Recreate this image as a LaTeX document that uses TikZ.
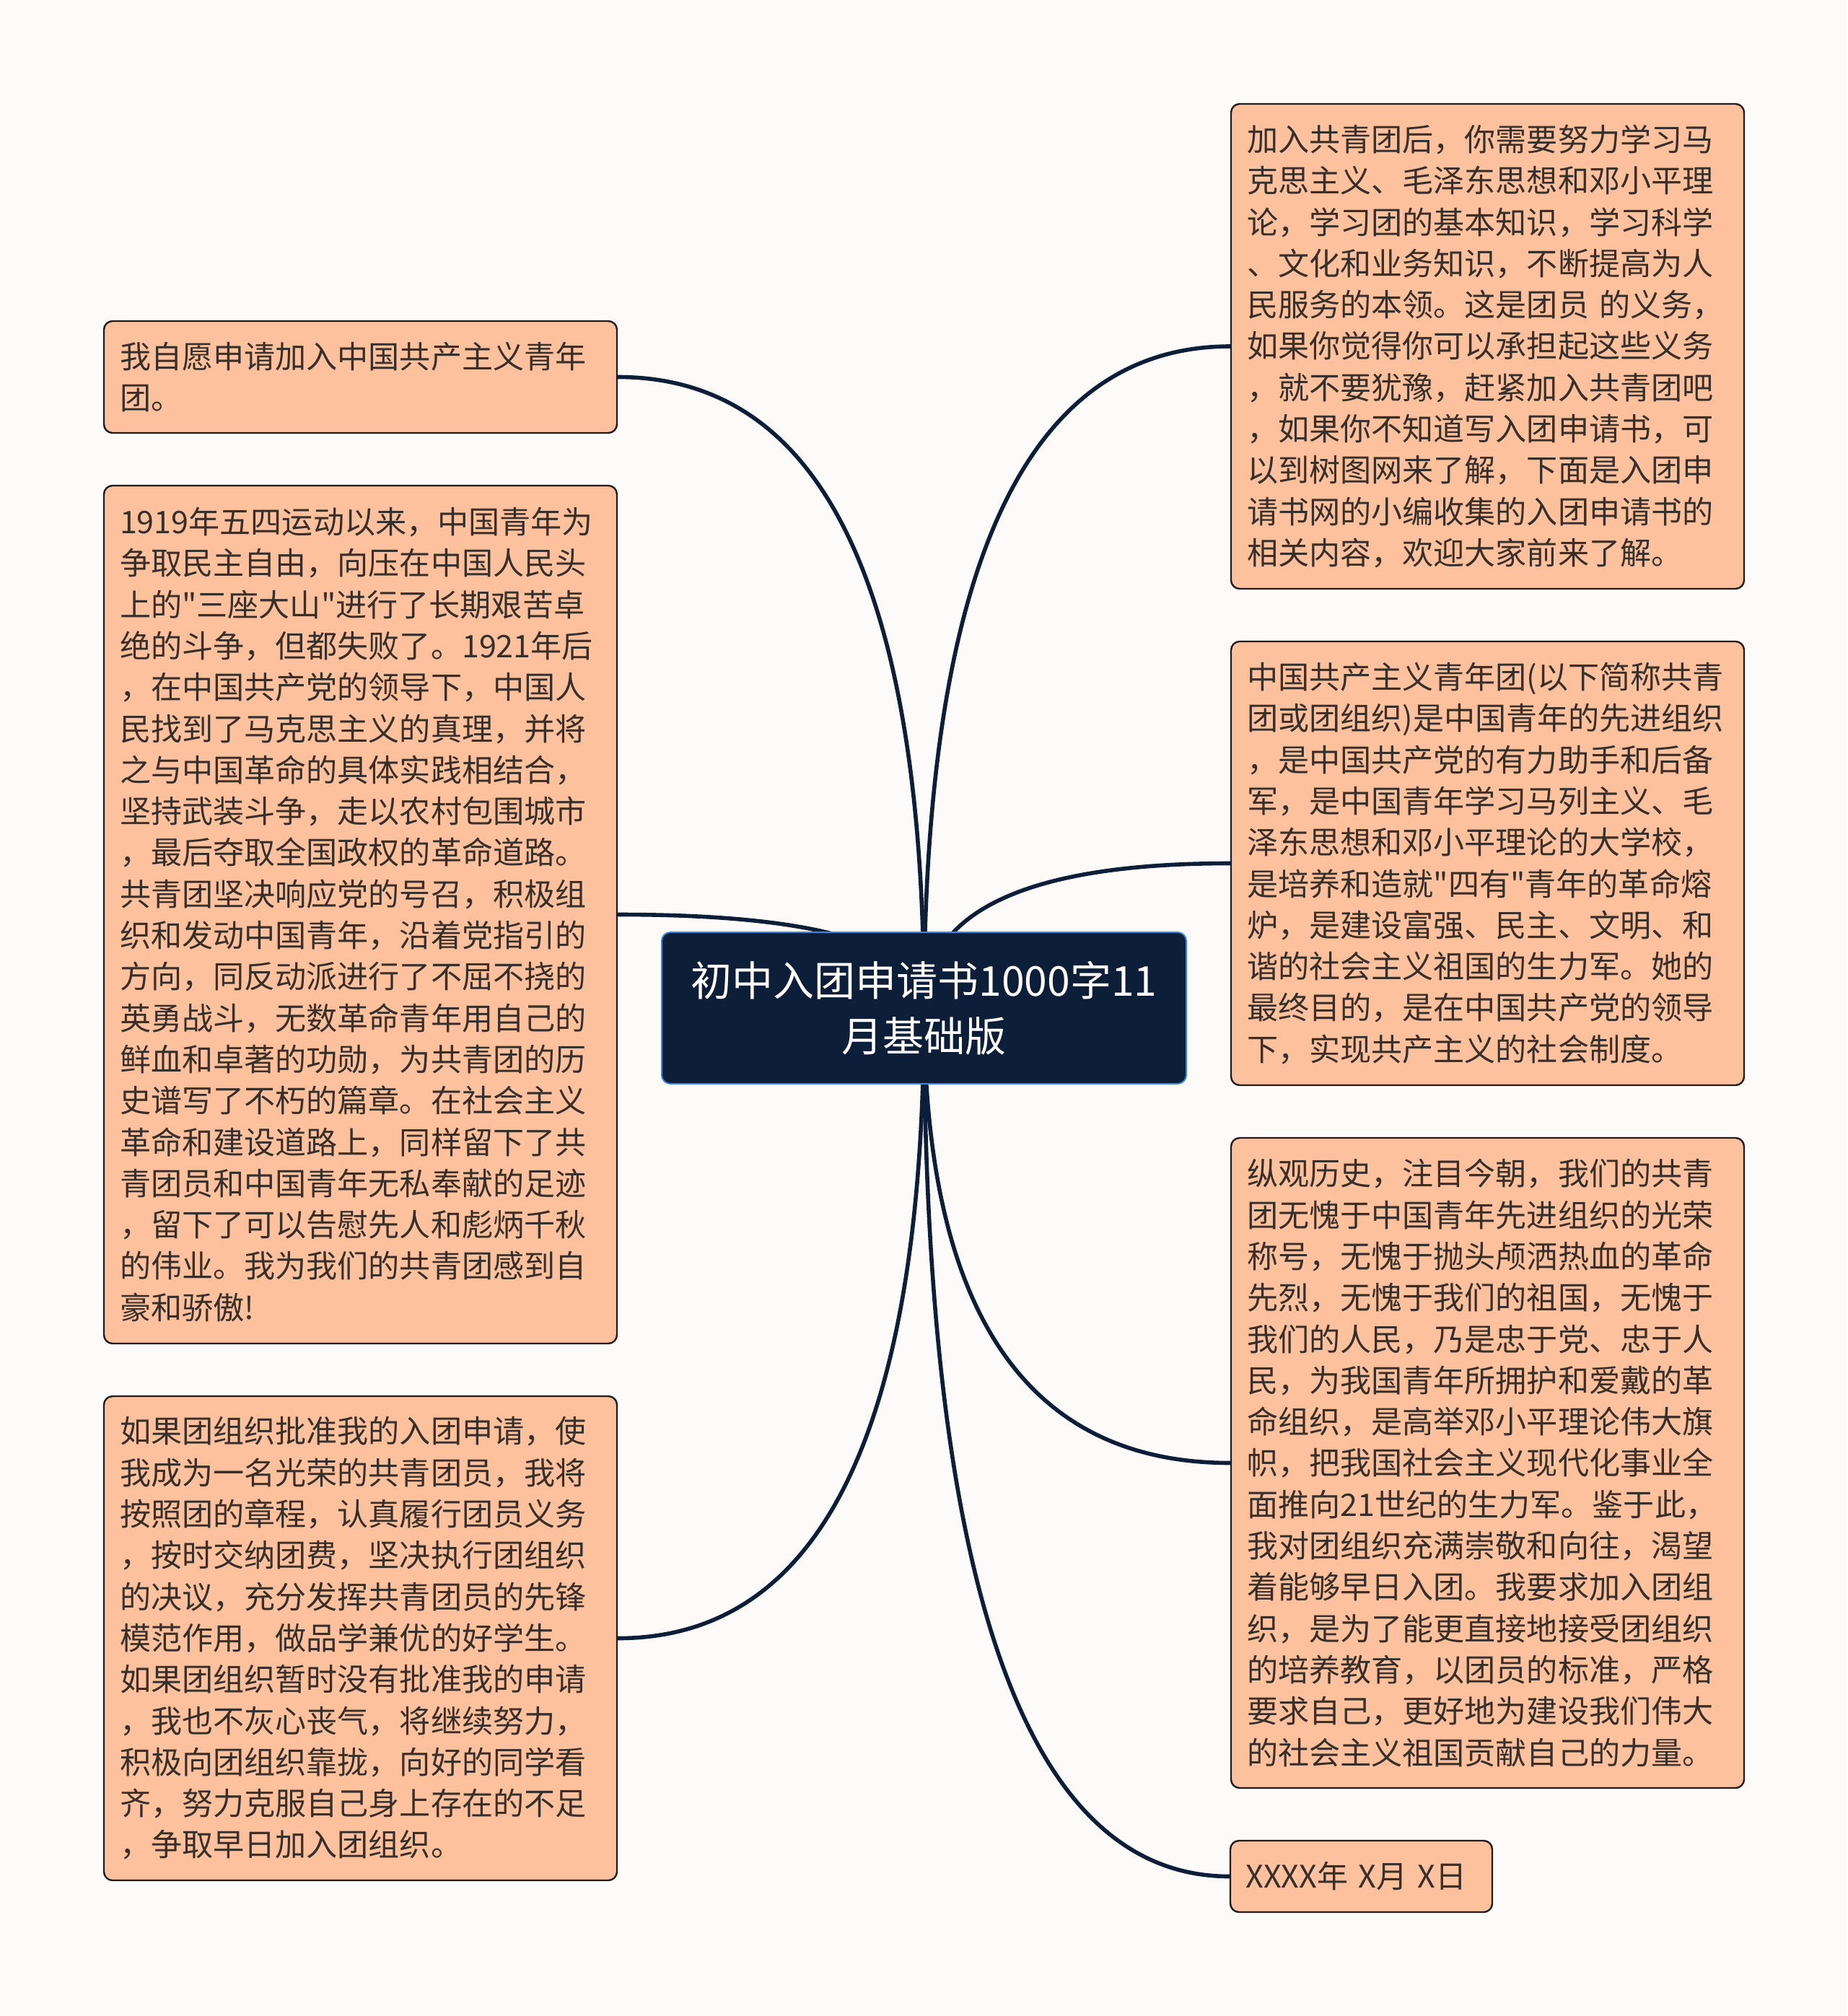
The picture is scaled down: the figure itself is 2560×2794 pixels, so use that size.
\documentclass[tikz,border=0pt]{standalone}
\usepackage{fontspec}
\newfontfamily\cjk{Noto Sans CJK SC}
\usetikzlibrary{calc}
\definecolor{bgc}{RGB}{253,251,250}
\definecolor{peach}{RGB}{254,193,158}
\definecolor{navy}{RGB}{13,30,56}
\definecolor{rootborder}{RGB}{66,133,222}
\definecolor{txt}{RGB}{55,47,42}
\definecolor{boxline}{RGB}{30,28,28}
\begin{document}
\begin{tikzpicture}[x=0.5pt,y=-0.5pt,
  topic/.style={draw=boxline, line width=1.2pt, fill=peach, rounded corners=6pt,
    text=txt, font=\cjk\fontsize{21.55pt}{28.65pt}\selectfont, align=left,
    inner xsep=0pt, inner ysep=0pt, minimum width=355.5pt, text width=333.5pt},
  root/.style={draw=rootborder, line width=1pt, fill=navy, rounded corners=6pt,
    text=white, font=\cjk\fontsize{28.5pt}{38.5pt}\selectfont, align=center,
    inner sep=0pt, minimum width=363.5pt, minimum height=105pt, text width=345pt},
  conn/.style={draw=navy, line width=2.8pt}]
\fill[bgc] (0,0) rectangle (2560,2794);
\useasboundingbox (0,0) rectangle (2560,2794);

\node[topic, minimum height=77.5pt] (L1) at (499.5,522.5)
{我自愿申请加入中国共产主义青年\\团。};

\node[topic, minimum height=594.5pt] (L2) at (499.5,1267.5)
{1919年五四运动以来，中国青年为\\
争取民主自由，向压在中国人民头\\
上的"三座大山"进行了长期艰苦卓\\
绝的斗争，但都失败了。1921年后\\
，在中国共产党的领导下，中国人\\
民找到了马克思主义的真理，并将\\
之与中国革命的具体实践相结合，\\
坚持武装斗争，走以农村包围城市\\
，最后夺取全国政权的革命道路。\\
共青团坚决响应党的号召，积极组\\
织和发动中国青年，沿着党指引的\\
方向，同反动派进行了不屈不挠的\\
英勇战斗，无数革命青年用自己的\\
鲜血和卓著的功勋，为共青团的历\\
史谱写了不朽的篇章。在社会主义\\
革命和建设道路上，同样留下了共\\
青团员和中国青年无私奉献的足迹\\
，留下了可以告慰先人和彪炳千秋\\
的伟业。我为我们的共青团感到自\\
豪和骄傲!};

\node[topic, minimum height=335.5pt] (L3) at (499.5,2270.5)
{如果团组织批准我的入团申请，使\\
我成为一名光荣的共青团员，我将\\
按照团的章程，认真履行团员义务\\
，按时交纳团费，坚决执行团组织\\
的决议，充分发挥共青团员的先锋\\
模范作用，做品学兼优的好学生。\\
如果团组织暂时没有批准我的申请\\
，我也不灰心丧气，将继续努力，\\
积极向团组织靠拢，向好的同学看\\
齐，努力克服自己身上存在的不足\\
，争取早日加入团组织。};

\node[topic, minimum height=336pt] (R1) at (2061.5,480)
{加入共青团后，你需要努力学习马\\
克思主义、毛泽东思想和邓小平理\\
论，学习团的基本知识，学习科学\\
、文化和业务知识，不断提高为人\\
民服务的本领。这是团员~的义务，\\
如果你觉得你可以承担起这些义务\\
，就不要犹豫，赶紧加入共青团吧\\
，如果你不知道写入团申请书，可\\
以到树图网来了解，下面是入团申\\
请书网的小编收集的入团申请书的\\
相关内容，欢迎大家前来了解。};

\node[topic, minimum height=307.5pt] (R2) at (2061.5,1196.5)
{中国共产主义青年团(以下简称共青\\
团或团组织)是中国青年的先进组织\\
，是中国共产党的有力助手和后备\\
军，是中国青年学习马列主义、毛\\
泽东思想和邓小平理论的大学校，\\
是培养和造就"四有"青年的革命熔\\
炉，是建设富强、民主、文明、和\\
谐的社会主义祖国的生力军。她的\\
最终目的，是在中国共产党的领导\\
下，实现共产主义的社会制度。};

\node[topic, minimum height=450.5pt] (R3) at (2061.5,2027.5)
{纵观历史，注目今朝，我们的共青\\
团无愧于中国青年先进组织的光荣\\
称号，无愧于抛头颅洒热血的革命\\
先烈，无愧于我们的祖国，无愧于\\
我们的人民，乃是忠于党、忠于人\\
民，为我国青年所拥护和爱戴的革\\
命组织，是高举邓小平理论伟大旗\\
帜，把我国社会主义现代化事业全\\
面推向21世纪的生力军。鉴于此，\\
我对团组织充满崇敬和向往，渴望\\
着能够早日入团。我要求加入团组\\
织，是为了能更直接地接受团组织\\
的培养教育，以团员的标准，严格\\
要求自己，更好地为建设我们伟大\\
的社会主义祖国贡献自己的力量。};

\node[topic, minimum width=181.5pt, text width=160pt, minimum height=49.5pt] (R4) at (1886.5,2600.5)
{XXXX年 X月 X日};

\coordinate (hub) at (1280.5,1397);
\foreach \t/\a in {L1/east,L2/east,L3/east,R1/west,R2/west,R3/west,R4/west}{
  \draw[conn] (hub) .. controls ($(hub)!0.6667!(hub|-\t.\a)$) and ($(\t.\a)!0.6667!(hub|-\t.\a)$) .. (\t.\a);
}

\node[root] (root) at (hub) {初中入团申请书1000字11\\月基础版};
\end{tikzpicture}
\end{document}
